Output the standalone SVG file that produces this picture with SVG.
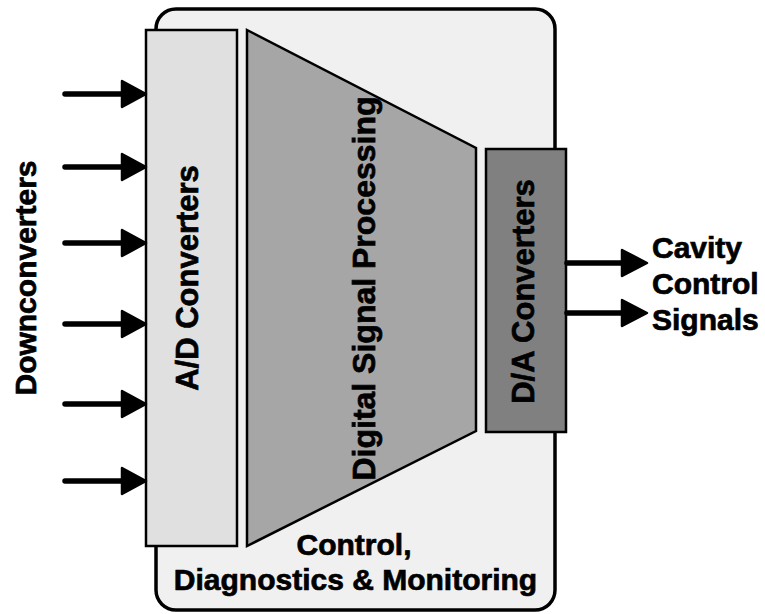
<svg xmlns="http://www.w3.org/2000/svg" width="765" height="614" viewBox="0 0 765 614">
<style>
.t{font-family:"Liberation Sans",Arial,sans-serif;font-weight:bold;fill:#000;stroke:#000;stroke-width:0.7;}
.ln{stroke:#000;stroke-width:5.5;stroke-linecap:round;fill:none;}
.hd{fill:#000;stroke:#000;stroke-width:2.5;stroke-linejoin:round;}
.box{stroke:#000;stroke-width:2.5;}
</style>
<rect width="765" height="614" fill="#fff"/>
<g id="outer">
<rect x="156" y="9" width="399" height="601" rx="20" ry="20" fill="#f0f0f0" stroke="#000" stroke-width="3.5"/>
<text class="t" x="354" y="555" font-size="30" text-anchor="middle">Control,</text>
<text class="t" x="355.5" y="590" font-size="30" text-anchor="middle">Diagnostics &amp; Monitoring</text>
</g>
<g id="ad">
<rect class="box" x="146" y="30" width="91" height="516" fill="#e0e0e0"/>
<text class="t" transform="translate(198,278) rotate(-90)" font-size="31" text-anchor="middle">A/D Converters</text>
</g>
<g id="dsp">
<polygon class="box" points="247,30 476,148 476,431 247,546" fill="#a6a6a6" stroke-linejoin="miter"/>
<text class="t" transform="translate(375,288.5) rotate(-90)" font-size="32" text-anchor="middle">Digital Signal Processing</text>
</g>
<g id="da">
<rect class="box" x="486" y="149" width="80" height="283" fill="#808080"/>
<text class="t" transform="translate(534,291.5) rotate(-90)" font-size="31" text-anchor="middle">D/A Converters</text>
</g>
<g id="downconverters">
<text class="t" transform="translate(36,278) rotate(-90)" font-size="30" text-anchor="middle">Downconverters</text>
</g>
<g id="cavity">
<text class="t" x="652" y="258" font-size="30">Cavity</text>
<text class="t" x="652" y="294" font-size="30">Control</text>
<text class="t" x="652" y="330" font-size="30">Signals</text>
</g>
<g id="connectors">
<line class="ln" x1="65" y1="94" x2="124" y2="94"/><polygon class="hd" points="122,81 146,94 122,107"/>
<line class="ln" x1="65" y1="167" x2="124" y2="167"/><polygon class="hd" points="122,154 146,167 122,180"/>
<line class="ln" x1="65" y1="243" x2="124" y2="243"/><polygon class="hd" points="122,230 146,243 122,256"/>
<line class="ln" x1="65" y1="324" x2="124" y2="324"/><polygon class="hd" points="122,311 146,324 122,337"/>
<line class="ln" x1="65" y1="404" x2="124" y2="404"/><polygon class="hd" points="122,391 146,404 122,417"/>
<line class="ln" x1="65" y1="481" x2="124" y2="481"/><polygon class="hd" points="122,468 146,481 122,494"/>
<line class="ln" x1="567" y1="263" x2="624" y2="263" stroke-linecap="butt"/><polygon class="hd" points="622,250 647,263 622,276"/>
<line class="ln" x1="567" y1="313" x2="624" y2="313" stroke-linecap="butt"/><polygon class="hd" points="622,300 647,313 622,326"/>
</g>
</svg>
